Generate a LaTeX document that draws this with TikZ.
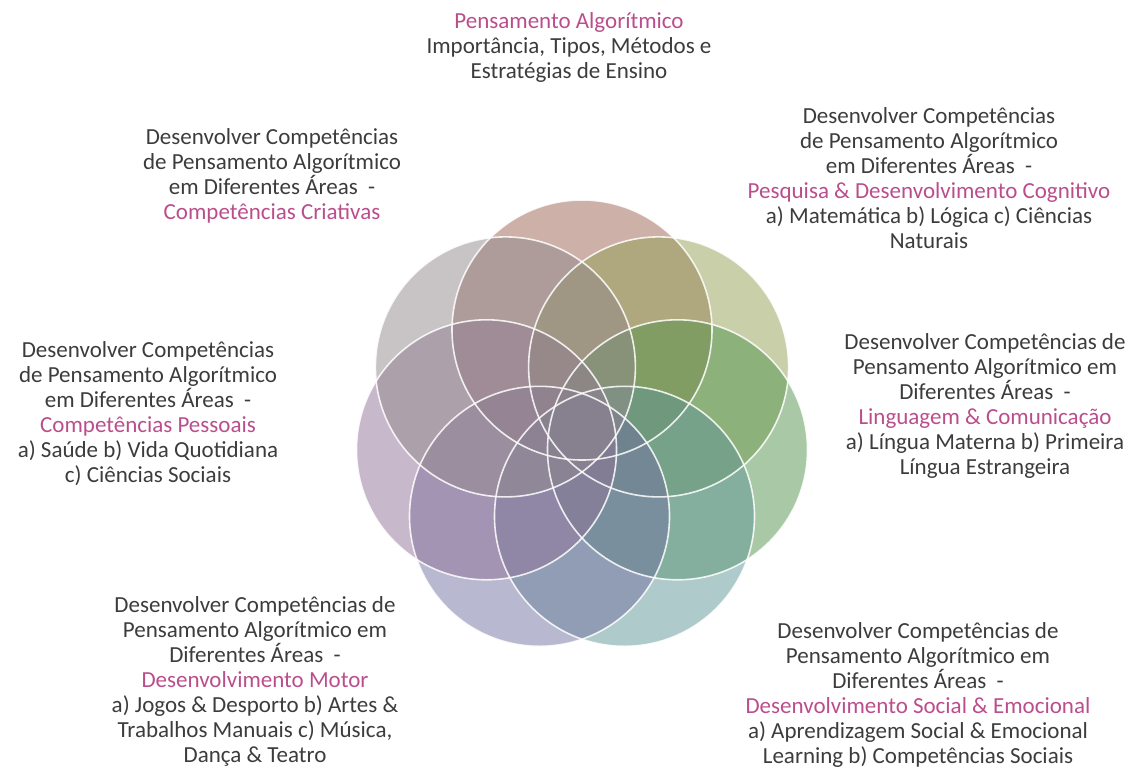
\documentclass[tikz,border=0pt]{standalone}
\usepackage{fontspec}
\setmainfont{Carlito}
\definecolor{txt}{RGB}{60,60,60}
\definecolor{pnk}{RGB}{186,78,140}
\definecolor{cA}{RGB}{155,97,81}
\definecolor{cB}{RGB}{145,137,141}
\definecolor{cC}{RGB}{147,159,83}
\definecolor{cD}{RGB}{145,113,151}
\definecolor{cE}{RGB}{83,147,77}
\definecolor{cF}{RGB}{113,113,161}
\definecolor{cG}{RGB}{95,149,149}
\tikzset{
  petal/.style={circle, minimum size=260pt, inner sep=0pt, outer sep=0pt, fill opacity=0.5},
  rim/.style={circle, minimum size=260pt, inner sep=0pt, outer sep=0pt, draw=white, line width=1.6pt, draw opacity=0.85},
  lbl/.style={align=center, inner sep=0pt, text=txt, font=\fontsize{23}{25}\selectfont},
  hl/.style={text=pnk}
}
\begin{document}
\begin{tikzpicture}[x=1pt,y=-1pt]
\useasboundingbox (0,0) rectangle (1136,769);
% petals
\node[petal, fill=cA] (pA) at (582,330) {};
\node[petal, fill=cC] (pC) at (658.6,366.9) {};
\node[petal, fill=cE] (pE) at (677.5,449.8) {};
\node[petal, fill=cG] (pG) at (624.5,516.3) {};
\node[petal, fill=cF] (pF) at (539.5,516.3) {};
\node[petal, fill=cD] (pD) at (486.5,449.8) {};
\node[petal, fill=cB] (pB) at (505.4,366.9) {};
% outlines
\node[rim] (rA) at (582,330) {};
\node[rim] (rC) at (658.6,366.9) {};
\node[rim] (rE) at (677.5,449.8) {};
\node[rim] (rG) at (624.5,516.3) {};
\node[rim] (rF) at (539.5,516.3) {};
\node[rim] (rD) at (486.5,449.8) {};
\node[rim] (rB) at (505.4,366.9) {};
% labels
\node[lbl] (tTop) at (569,47) {\textcolor{pnk}{Pensamento Algorítmico}\\Importância, Tipos, Métodos e\\Estratégias de Ensino};
\node[lbl] (tUL) at (272,176) {Desenvolver Competências\\de Pensamento Algorítmico\\em Diferentes Áreas~ -\\\textcolor{pnk}{Competências Criativas}};
\node[lbl] (tUR) at (929,178) {Desenvolver Competências\\de Pensamento Algorítmico\\em Diferentes Áreas~ -\\\textcolor{pnk}{Pesquisa \& Desenvolvimento Cognitivo}\\a) Matemática b) Lógica c) Ciências\\Naturais};
\node[lbl] (tL) at (148,414) {Desenvolver Competências\\de Pensamento Algorítmico\\em Diferentes Áreas~ -\\\textcolor{pnk}{Competências Pessoais}\\a) Saúde b) Vida Quotidiana\\c) Ciências Sociais};
\node[lbl] (tR) at (985,406) {Desenvolver Competências de\\Pensamento Algorítmico em\\Diferentes Áreas~ -\\\textcolor{pnk}{Linguagem \& Comunicação}\\a) Língua Materna b) Primeira\\Língua Estrangeira};
\node[lbl] (tBL) at (255,681) {Desenvolver Competências de\\Pensamento Algorítmico em\\Diferentes Áreas~ -\\\textcolor{pnk}{Desenvolvimento Motor}\\a) Jogos \& Desporto b) Artes \&\\Trabalhos Manuais c) Música,\\Dança \& Teatro};
\node[lbl] (tBR) at (918,694.5) {Desenvolver Competências de\\Pensamento Algorítmico em\\Diferentes Áreas~ -\\\textcolor{pnk}{Desenvolvimento Social \& Emocional}\\a) Aprendizagem Social \& Emocional\\Learning b) Competências Sociais};
\end{tikzpicture}
\end{document}
